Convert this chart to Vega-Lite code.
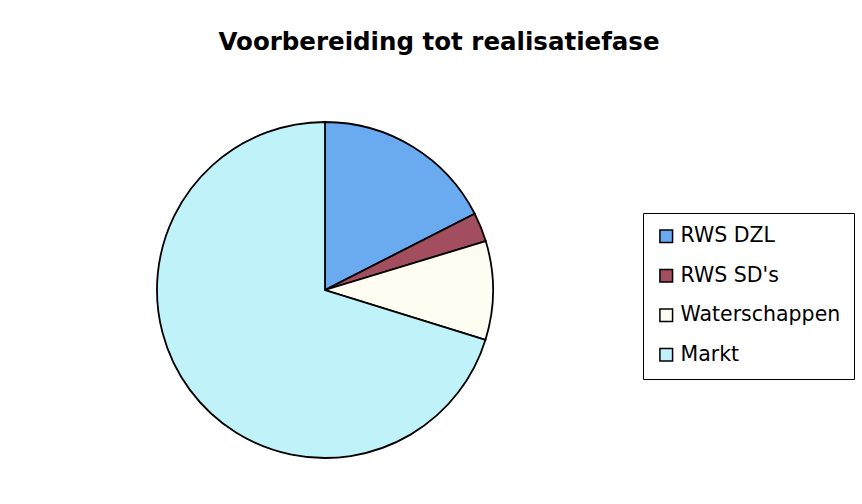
{
  "$schema": "https://vega.github.io/schema/vega-lite/v6.json",
  "autosize": {"type": "none"},
  "width": 336,
  "height": 336,
  "padding": {"left": 157, "top": 122, "right": 369, "bottom": 46},
  "background": "white",
  "title": {
    "text": "Voorbereiding tot realisatiefase",
    "font": "DejaVu Sans",
    "fontSize": 24.5,
    "fontWeight": "bold",
    "color": "black",
    "anchor": "middle",
    "dx": 114,
    "offset": 63
  },
  "data": {
    "values": [
      {"nr": 1, "partij": "RWS DZL", "aandeel": 17.5},
      {"nr": 2, "partij": "RWS SD's", "aandeel": 2.8},
      {"nr": 3, "partij": "Waterschappen", "aandeel": 9.5},
      {"nr": 4, "partij": "Markt", "aandeel": 70.2}
    ]
  },
  "mark": {"type": "arc", "stroke": "black", "strokeWidth": 1.8},
  "encoding": {
    "theta": {"field": "aandeel", "type": "quantitative", "stack": true},
    "order": {"field": "nr", "type": "quantitative"},
    "color": {
      "field": "partij",
      "type": "nominal",
      "sort": null,
      "scale": {
        "domain": ["RWS DZL", "RWS SD's", "Waterschappen", "Markt"],
        "range": ["#6aaaf0", "#a24e5e", "#fffcf2", "#c0f2fa"]
      },
      "legend": {
        "orient": "none",
        "legendX": 486,
        "legendY": 91,
        "title": null,
        "strokeColor": "black",
        "fillColor": "white",
        "padding": 13,
        "symbolType": "square",
        "symbolSize": 160,
        "symbolStrokeColor": "black",
        "symbolStrokeWidth": 1.5,
        "symbolOpacity": 1,
        "labelFont": "DejaVu Sans",
        "labelFontSize": 20.5,
        "labelColor": "black",
        "labelLimit": 300,
        "labelOffset": 4,
        "rowPadding": 18.5
      }
    }
  },
  "config": {"view": {"stroke": null}}
}
